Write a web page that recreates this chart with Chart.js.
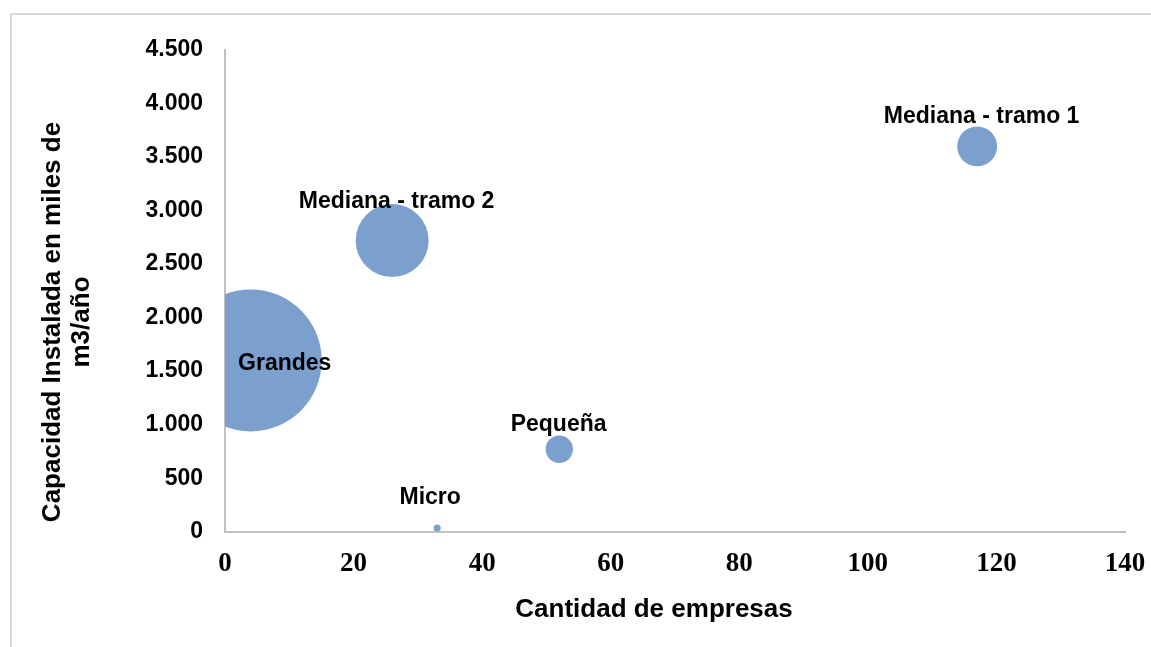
<!DOCTYPE html>
<html>
<head>
<meta charset="utf-8">
<script src="https://cdn.jsdelivr.net/npm/chart.js@4/dist/chart.umd.min.js"></script>
<style>
    html, body { margin: 0; padding: 0; background: #fff; }
    #wrap { width: 1151px; height: 647px; }
</style>
</head>
<body>
<div id="wrap"><canvas id="bubbleChart" width="1151" height="647"></canvas></div>
<script>
// Datos
const categories = ["Grandes", "Mediana - tramo 2", "Mediana - tramo 1", "Pequeña", "Micro"];
const empresas = [4, 26, 117, 52, 33];
const capacidad = [1600, 2720, 3600, 770, 35];
const bubbleSize = [100, 26.4, 7.9, 3.7, 0.25];
const xTickValues = [0, 20, 40, 60, 80, 100, 120, 140];
const yTickValues = [0, 500, 1000, 1500, 2000, 2500, 3000, 3500, 4000, 4500];

// Estilo
const BUBBLE_COLOR = "#7ba0cd";
const MAX_RADIUS = 71;
const labelOffsets = [[34, 9.5], [4.5, -33], [4.5, -23], [-0.7, -18.5], [-7, -24]];

const maxSize = Math.max(...bubbleSize);
const points = categories.map((name, i) => ({
    x: empresas[i],
    y: capacidad[i],
    r: MAX_RADIUS * Math.sqrt(bubbleSize[i] / maxSize)
}));

function formatThousands(value) {
    return String(value).replace(/\B(?=(\d{3})+(?!\d))/g, ".");
}

function noScalePadding(scale) {
    scale.paddingLeft = 0;
    scale.paddingRight = 0;
    scale.paddingTop = 0;
    scale.paddingBottom = 0;
}

const framePlugin = {
    id: "frame",
    beforeDraw(chart) {
        const ctx = chart.ctx;
        ctx.save();
        ctx.fillStyle = "#ffffff";
        ctx.fillRect(0, 0, chart.width, chart.height);
        ctx.strokeStyle = "#d9d9d9";
        ctx.lineWidth = 2;
        ctx.beginPath();
        ctx.moveTo(11, chart.height);
        ctx.lineTo(11, 14);
        ctx.lineTo(chart.width, 14);
        ctx.stroke();
        ctx.restore();
    }
};

const labelsPlugin = {
    id: "bubbleLabels",
    afterDatasetsDraw(chart) {
        const ctx = chart.ctx;
        const meta = chart.getDatasetMeta(0);
        ctx.save();
        ctx.fillStyle = "#000000";
        ctx.font = "bold 23px 'Liberation Sans', Arial, sans-serif";
        ctx.textAlign = "center";
        ctx.textBaseline = "alphabetic";
        meta.data.forEach((el, i) => {
            const [dx, dy] = labelOffsets[i];
            ctx.fillText(categories[i], el.x + dx, el.y + dy);
        });
        ctx.restore();
    }
};

const axisTitlesPlugin = {
    id: "axisTitles",
    afterDraw(chart) {
        const ctx = chart.ctx;
        ctx.save();
        ctx.fillStyle = "#000000";
        ctx.font = "bold 26px 'Liberation Sans', Arial, sans-serif";
        ctx.textAlign = "center";
        ctx.textBaseline = "middle";
        ctx.fillText("Cantidad de empresas", 654, 610);

        ctx.translate(67, 322);
        ctx.rotate(-Math.PI / 2);
        ctx.fillText("Capacidad Instalada en miles de", 0, -14);
        ctx.fillText("m3/año", 0, 15);
        ctx.restore();
    }
};

new Chart(document.getElementById("bubbleChart"), {
    type: "bubble",
    data: {
        datasets: [{
            label: "Capacidad instalada",
            data: points,
            backgroundColor: BUBBLE_COLOR,
            borderColor: BUBBLE_COLOR,
            borderWidth: 0,
            hoverBorderWidth: 0,
            clip: 0
        }]
    },
    options: {
        responsive: false,
        animation: false,
        events: [],
        layout: { autoPadding: false, padding: { left: 0, right: 26, top: 50, bottom: 0 } },
        plugins: {
            legend: { display: false },
            tooltip: { enabled: false }
        },
        scales: {
            x: {
                type: "linear",
                min: 0,
                max: 140,
                afterBuildTicks: (scale) => { scale.ticks = xTickValues.map(v => ({ value: v })); },
                afterFit: (scale) => { scale.height = 115.3; noScalePadding(scale); },
                grid: { display: false, drawTicks: false },
                border: { display: true, color: "#c0c0c0", width: 2 },
                ticks: {
                    color: "#000000",
                    padding: 16,
                    maxRotation: 0,
                    font: { family: "'Liberation Serif', 'Times New Roman', serif", size: 27, weight: "bold" }
                }
            },
            y: {
                type: "linear",
                min: 0,
                max: 4500,
                afterBuildTicks: (scale) => { scale.ticks = yTickValues.map(v => ({ value: v })); },
                afterFit: (scale) => { scale.width = 225; noScalePadding(scale); },
                grid: { display: false, drawTicks: false },
                border: { display: true, color: "#c0c0c0", width: 2 },
                ticks: {
                    color: "#000000",
                    padding: 22,
                    font: { family: "'Liberation Sans', Arial, sans-serif", size: 23, weight: "bold" },
                    callback: (value) => formatThousands(value)
                }
            }
        }
    },
    plugins: [framePlugin, labelsPlugin, axisTitlesPlugin]
});
</script>
</body>
</html>
